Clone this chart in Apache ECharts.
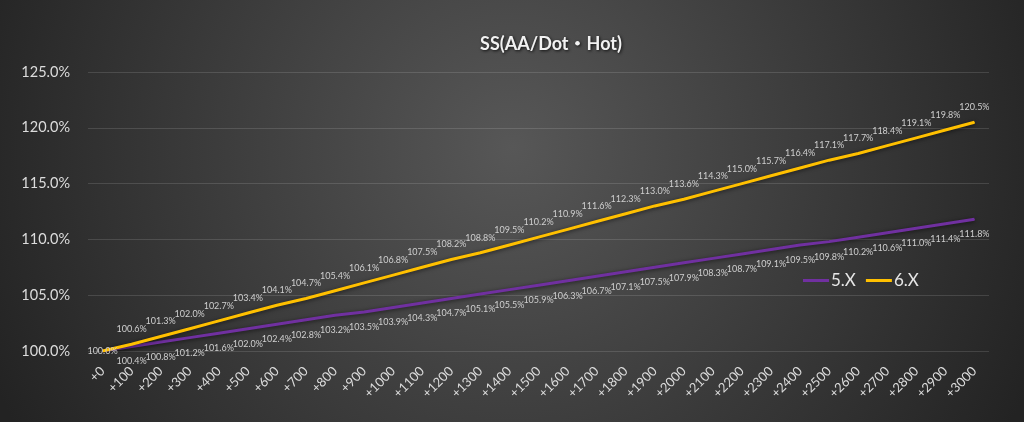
<!DOCTYPE html>
<html>
<head>
<meta charset="utf-8">
<script src="https://cdn.jsdelivr.net/npm/echarts@6/dist/echarts.min.js"></script>
<style>
html,body{margin:0;padding:0;background:#333;}
#main{width:1024px;height:422px;}
</style>
</head>
<body>
<div id="main"></div>
<script>
// x軸カテゴリ
var categories = ['+0','+100','+200','+300','+400','+500','+600','+700','+800','+900','+1000',
  '+1100','+1200','+1300','+1400','+1500','+1600','+1700','+1800','+1900','+2000',
  '+2100','+2200','+2300','+2400','+2500','+2600','+2700','+2800','+2900','+3000'];

// 5.X
var values5x = [100.0,100.4,100.8,101.2,101.6,102.0,102.4,102.8,103.2,103.5,103.9,
  104.3,104.7,105.1,105.5,105.9,106.3,106.7,107.1,107.5,107.9,
  108.3,108.7,109.1,109.5,109.8,110.2,110.6,111.0,111.4,111.8];

// 6.X
var values6x = [100.0,100.6,101.3,102.0,102.7,103.4,104.1,104.7,105.4,106.1,106.8,
  107.5,108.2,108.8,109.5,110.2,110.9,111.6,112.3,113.0,113.6,
  114.3,115.0,115.7,116.4,117.1,117.7,118.4,119.1,119.8,120.5];

var yTicks = [100, 105, 110, 115, 120, 125];

var chart = echarts.init(document.getElementById('main'));

var fontName = 'Lato, "Noto Sans CJK JP", sans-serif';
var pct = function (v) { return v.toFixed(1) + '%'; };

// 先頭の100.0%は点の上に一つだけ出す
var data6 = values6x.map(function (v, i) {
  if (i === 0) return {value: v, label: {position: 'inside'}};
  return v;
});
var data5 = values5x.map(function (v, i) {
  if (i === 0) return {value: v, label: {show: false}};
  return v;
});

var option = {
  backgroundColor: {
    type: 'radial', x: 0.5, y: 0.35, r: 1.35,
    colorStops: [
      {offset: 0, color: '#575757'},
      {offset: 1, color: '#232323'}
    ]
  },
  textStyle: {fontFamily: fontName},
  title: {
    text: 'SS(AA/Dot・Hot)',
    left: 546, top: 30, textAlign: 'center',
    textStyle: {
      color: '#f2f2f2', fontSize: 18, fontWeight: 'bold', fontFamily: fontName,
      textShadowColor: 'rgba(0,0,0,0.8)', textShadowBlur: 3, textShadowOffsetX: 1, textShadowOffsetY: 1
    }
  },
  legend: {
    left: 798, top: 267,
    icon: 'rect', itemWidth: 26, itemHeight: 3, itemGap: 10,
    textStyle: {color: '#e6e6e6', fontSize: 17, fontFamily: fontName, padding: [0, 0, 0, -3]},
    data: ['5.X', '6.X']
  },
  grid: {left: 88, right: 35, top: 72, bottom: 71},
  xAxis: {
    type: 'category',
    data: categories,
    boundaryGap: true,
    axisLine: {show: false},
    axisTick: {show: false},
    axisLabel: {color: '#dcdcdc', fontSize: 13, rotate: 45, margin: 18, interval: 0}
  },
  yAxis: {
    type: 'value',
    min: yTicks[0], max: yTicks[yTicks.length - 1], interval: 5,
    axisLine: {show: false},
    axisTick: {show: false},
    axisLabel: {color: '#dcdcdc', fontSize: 14.5, margin: 18, formatter: pct},
    splitLine: {lineStyle: {color: 'rgba(255,255,255,0.13)', width: 1}}
  },
  series: [
    {
      name: '5.X', type: 'line', data: data5,
      symbol: 'circle', symbolSize: 1, showSymbol: true,
      itemStyle: {color: '#7030A0'},
      lineStyle: {color: '#7030A0', width: 3, shadowColor: 'rgba(0,0,0,0.6)', shadowBlur: 4, shadowOffsetY: 1},
      label: {show: true, position: 'bottom', distance: 10, color: '#cfcfcf', fontSize: 9, formatter: function (p) { return pct(p.value); }},
      z: 2
    },
    {
      name: '6.X', type: 'line', data: data6,
      symbol: 'circle', symbolSize: 1, showSymbol: true,
      itemStyle: {color: '#FFC000'},
      lineStyle: {color: '#FFC000', width: 3, shadowColor: 'rgba(0,0,0,0.6)', shadowBlur: 4, shadowOffsetY: 1},
      label: {show: true, position: 'top', distance: 10, color: '#cfcfcf', fontSize: 9, formatter: function (p) { return pct(p.value); }},
      z: 3
    }
  ]
};
chart.setOption(option);
</script>
</body>
</html>
